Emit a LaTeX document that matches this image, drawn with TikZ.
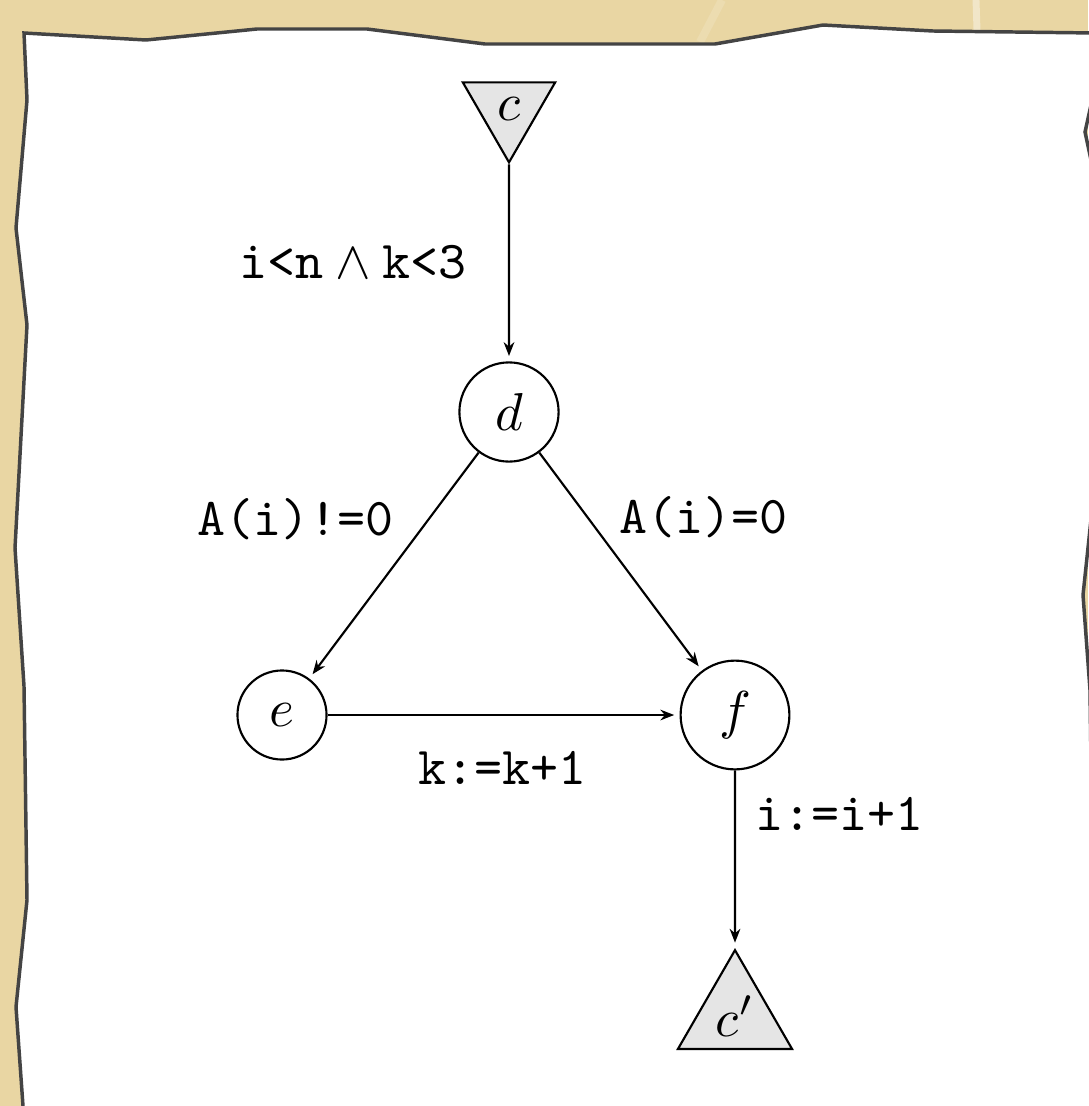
\documentclass[tikz,border=0pt]{standalone}
\usetikzlibrary{shapes.geometric,arrows.meta}
\definecolor{papertan}{RGB}{233,214,163}
\definecolor{tanlight}{RGB}{241,230,200}
\definecolor{edgegray}{RGB}{68,68,68}
\begin{document}
\begin{tikzpicture}[x=0.1875pt,y=-0.1875pt,
    st/.style={circle,draw,inner sep=1pt},
    tri/.style={regular polygon,regular polygon sides=3,draw,fill=black!10,inner sep=0pt,minimum size=20pt},
    lbl/.style={anchor=base,inner sep=0pt},
    flow/.style={-{Stealth[length=2.6pt,width=2pt]},shorten >=1pt}]
    \useasboundingbox (0,0) rectangle (1088,1106);
    % background and torn sheet
    \fill[papertan] (0,0) rectangle (1088,1106);
    \draw[tanlight,line width=1.3pt] (976,0) -- (977,30);
    \draw[tanlight!35!papertan,line width=1.5pt] (722,0) -- (700,42);
    \filldraw[fill=white,draw=edgegray,line width=0.65pt]
        (24,33) -- (146,40) -- (257,29) -- (367,29) -- (485,44) -- (715,44)
        -- (823,25) -- (933,31) -- (1095,33) -- (1091,105) -- (1085,132)
        -- (1091,160) -- (1092,510) -- (1083,595) -- (1090,690) -- (1096,1120)
        -- (24,1120) -- (16,1007) -- (27,900) -- (24,686) -- (15,548)
        -- (27,325) -- (16,228) -- (27,100) -- cycle;
    % states
    \node[tri,shape border rotate=180] (c) at (509,109) {$c$};
    \node[st,minimum size=18.6pt] (d) at (509,412) {$d$};
    \node[st,minimum size=16.7pt] (e) at (282,715) {$e$};
    \node[st,minimum size=20.4pt] (f) at (735,715) {$f$};
    \node[tri,minimum size=24.7pt] (cprime) at (735,1016) {$c'$};
    % transitions
    \draw[flow] (c) -- (d);
    \draw[flow] (d) -- (e);
    \draw[flow] (d) -- (f);
    \draw[flow] (e) -- (f);
    \draw[flow] (f) -- (cprime);
    % guards and actions
    \node[lbl] (gcd) at (353,278) {$\texttt{i<n}\wedge\texttt{k<3}$};
    \node[lbl] (gde) at (295,535) {\texttt{A(i)!=0}};
    \node[lbl] (gdf) at (703,533) {\texttt{A(i)=0}};
    \node[lbl] (aef) at (502,784) {\texttt{k:=k+1}};
    \node[lbl] (afc) at (839,830) {\texttt{i:=i+1}};
\end{tikzpicture}
\end{document}
